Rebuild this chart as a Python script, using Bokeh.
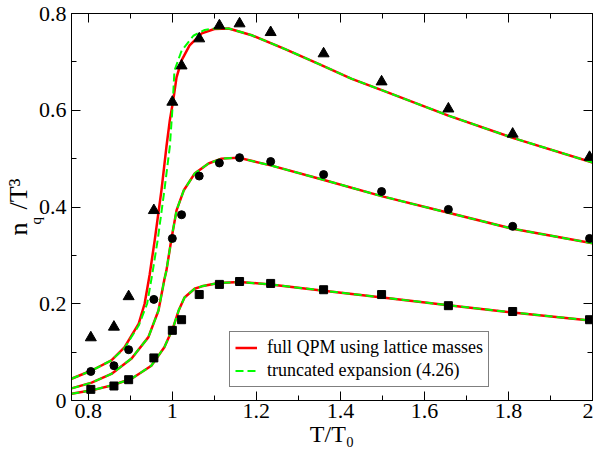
import math
from bokeh.plotting import figure
from bokeh.models import (LinearAxis, FixedTicker, Range1d, Label, Legend, LegendItem,
                          CustomJSTickFormatter)
from bokeh.embed import file_html
from bokeh.resources import INLINE

# ---- lattice data points (T/T0 and n_q/T^3) ----
T_lat = [0.806, 0.861, 0.896, 0.956, 1.0, 1.022, 1.064, 1.112, 1.16, 1.234, 1.36, 1.498, 1.657, 1.81, 1.993]
lat_tri = [0.13, 0.152, 0.215, 0.393, 0.617, 0.692, 0.748, 0.775, 0.779, 0.761, 0.717, 0.659, 0.603, 0.551, 0.503]
lat_circ = [0.060, 0.072, 0.105, 0.209, 0.335, 0.384, 0.464, 0.491, 0.502, 0.494, 0.467, 0.432, 0.395, 0.36, 0.335]
lat_sq = [0.023, 0.030, 0.043, 0.088, 0.145, 0.167, 0.219, 0.240, 0.246, 0.242, 0.229, 0.219, 0.196, 0.184, 0.167]

# ---- full QPM curves (red) ----
qpm_top_T = [0.76, 0.808, 0.855, 0.886, 0.92, 0.934, 0.946, 0.958, 0.974, 0.986, 0.994, 1.002, 1.01,
             1.022, 1.041, 1.07, 1.10, 1.134, 1.189, 1.267, 1.348, 1.427, 1.5, 1.657, 1.81, 2.0]
qpm_top = [0.045, 0.062, 0.083, 0.110, 0.159, 0.200, 0.260, 0.331, 0.434, 0.525, 0.579, 0.620, 0.668,
           0.703, 0.734, 0.759, 0.768, 0.769, 0.755, 0.727, 0.696, 0.665, 0.641, 0.589, 0.543, 0.492]

qpm_mid_T = [0.76, 0.808, 0.855, 0.903, 0.943, 0.967, 0.981, 0.986, 0.998, 1.01, 1.027, 1.053, 1.086,
             1.117, 1.157, 1.234, 1.348, 1.5, 1.657, 1.81, 2.0]
qpm_mid = [0.025, 0.037, 0.055, 0.087, 0.131, 0.186, 0.250, 0.269, 0.335, 0.393, 0.434, 0.469, 0.490,
           0.500, 0.502, 0.486, 0.459, 0.422, 0.388, 0.355, 0.325]

qpm_bot_T = [0.76, 0.808, 0.855, 0.903, 0.95, 0.981, 1.002, 1.015, 1.029, 1.053, 1.07, 1.11, 1.16,
             1.234, 1.36, 1.5, 1.657, 1.81, 2.0]
qpm_bot = [0.014, 0.021, 0.031, 0.045, 0.072, 0.110, 0.151, 0.186, 0.213, 0.231, 0.236, 0.243, 0.245,
           0.240, 0.227, 0.213, 0.197, 0.182, 0.165]

# ---- truncated expansion (green dashed) ----
trunc_top_T = [0.76, 0.808, 0.855, 0.886, 0.92, 0.94, 0.952, 0.965, 0.981, 0.994, 1.0, 1.005,
               1.022, 1.05, 1.077, 1.10, 1.134, 1.189, 1.267, 1.348, 1.427, 1.5, 1.657, 1.81, 2.0]
trunc_top = [0.045, 0.062, 0.083, 0.108, 0.155, 0.200, 0.260, 0.331, 0.434, 0.525, 0.600, 0.682,
             0.723, 0.754, 0.766, 0.769, 0.769, 0.755, 0.727, 0.696, 0.665, 0.641, 0.589, 0.543, 0.492]
trunc_mid_T = qpm_mid_T
trunc_mid = qpm_mid
trunc_bot_T = qpm_bot_T
trunc_bot = qpm_bot

x_ticks = [0.8, 1.0, 1.2, 1.4, 1.6, 1.8, 2.0]
x_minor = [0.9, 1.1, 1.3, 1.5, 1.7, 1.9]
y_ticks = [0.0, 0.2, 0.4, 0.6, 0.8]
y_minor = [0.1, 0.3, 0.5, 0.7]

FONT = "Liberation Serif"
TICK_FONT = "serif"
LEG_FONT = "serif"

p = figure(width=593, height=454, output_backend="svg", toolbar_location=None,
           x_range=Range1d(0.76, 2.0), y_range=Range1d(0.0, 0.8),
           min_border_left=70, min_border_right=1, min_border_top=13, min_border_bottom=54)
p.grid.visible = False
p.outline_line_color = "black"
p.background_fill_color = "white"
p.border_fill_color = "white"

bottom_ax = p.below[0]
left_ax = p.left[0]

fmt = CustomJSTickFormatter(code="return String(Math.round(tick*10)/10);")

top_ax = LinearAxis()
right_ax = LinearAxis()
p.add_layout(top_ax, "above")
p.add_layout(right_ax, "right")

for ax, ticks, minor in [(bottom_ax, x_ticks, x_minor), (top_ax, x_ticks, x_minor),
                         (left_ax, y_ticks, y_minor), (right_ax, y_ticks, y_minor)]:
    ax.ticker = FixedTicker(ticks=ticks, minor_ticks=minor)
    ax.major_tick_in = 9
    ax.major_tick_out = 0
    ax.minor_tick_in = 5
    ax.minor_tick_out = 0
    ax.axis_line_color = "black"
    ax.major_tick_line_color = "black"
    ax.minor_tick_line_color = "black"

for ax in (bottom_ax, left_ax):
    ax.formatter = fmt
    ax.major_label_text_font = TICK_FONT
    ax.major_label_text_font_size = "22px"
    ax.major_label_text_font_style = "normal"
    ax.major_label_text_color = "black"

for ax in (top_ax, right_ax):
    ax.major_label_text_font_size = "0px"
    ax.major_label_standoff = 0
    ax.major_label_text_alpha = 0

bottom_ax.major_label_standoff = 3
left_ax.major_label_standoff = 5
bottom_ax.axis_label = "T/T\u2080"
bottom_ax.axis_label_text_font = FONT
bottom_ax.axis_label_text_font_size = "24px"
bottom_ax.axis_label_text_font_style = "normal"
bottom_ax.axis_label_text_color = "black"
bottom_ax.axis_label_standoff = 0

# y axis label: n (q subscript added separately) / T^3
left_ax.axis_label = "n\u2002/T\u00b3"
left_ax.axis_label_text_font = FONT
left_ax.axis_label_text_font_size = "26px"
left_ax.axis_label_text_font_style = "normal"
left_ax.axis_label_text_color = "black"
left_ax.axis_label_standoff = 3

RED = "#ff0000"
GREEN = "#00ff00"

r1 = p.line(qpm_top_T, qpm_top, line_color=RED, line_width=2.5)
g1 = p.line(trunc_top_T, trunc_top, line_color=GREEN, line_width=2, line_dash="8 4")
r2 = p.line(qpm_mid_T, qpm_mid, line_color=RED, line_width=2.5)
g2 = p.line(trunc_mid_T, trunc_mid, line_color=GREEN, line_width=2, line_dash="8 4")
r3 = p.line(qpm_bot_T, qpm_bot, line_color=RED, line_width=2.5)
g3 = p.line(trunc_bot_T, trunc_bot, line_color=GREEN, line_width=2, line_dash="8 4")

p.scatter(T_lat, lat_tri, marker="triangle", size=11, fill_color="black", line_color="black")
p.scatter(T_lat, lat_circ, marker="circle", size=8, fill_color="black", line_color="black")
p.scatter(T_lat, lat_sq, marker="square", size=8, fill_color="black", line_color="black")

legend = Legend(items=[LegendItem(label="full QPM using lattice masses", renderers=[r1]),
                       LegendItem(label="truncated expansion (4.26)", renderers=[g1])],
                location=(158, 13))
legend.border_line_color = "black"
legend.border_line_width = 1
legend.background_fill_color = "white"
legend.background_fill_alpha = 1.0
legend.label_text_font = LEG_FONT
legend.label_text_font_size = "18px"
legend.label_text_font_style = "normal"
legend.label_text_color = "black"
legend.glyph_width = 22
legend.glyph_height = 17
legend.label_height = 17
legend.label_standoff = 10
legend.padding = 5
legend.spacing = 2
legend.margin = 0
p.add_layout(legend, "center")

# subscript q of the y label, placed through the (small) top side panel
p.add_layout(Label(x=-36, y=-211, x_units="screen", y_units="screen", angle=math.pi / 2,
                   text="q", text_font=FONT, text_font_size="15px", text_color="black",
                   text_baseline="alphabetic", text_align="left"), "above")

open("out.html", "w").write(file_html(p, INLINE))
